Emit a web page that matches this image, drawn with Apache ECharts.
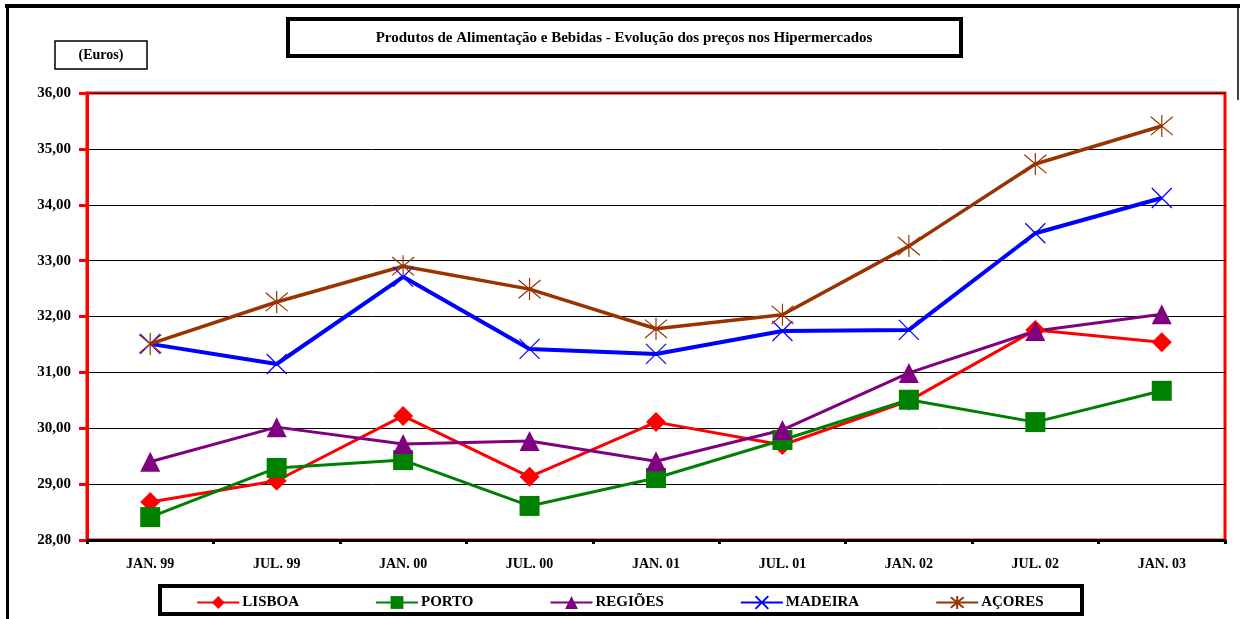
<!DOCTYPE html>
<html>
<head>
<meta charset="utf-8">
<script src="https://cdn.jsdelivr.net/npm/echarts@6/dist/echarts.min.js"></script>
<style>
  html, body { margin: 0; padding: 0; background: #fff; }
  #chart { width: 1240px; height: 619px; }
</style>
</head>
<body>
<div id="chart"></div>
<script>
const periods = ["JAN. 99", "JUL. 99", "JAN. 00", "JUL. 00", "JAN. 01", "JUL. 01", "JAN. 02", "JUL. 02", "JAN. 03"];
const lisboa = [28.68, 29.06, 30.22, 29.13, 30.11, 29.70, 30.49, 31.76, 31.54];
const porto = [28.41, 29.29, 29.43, 28.61, 29.11, 29.79, 30.51, 30.11, 30.67];
const regioes = [29.40, 30.02, 29.72, 29.77, 29.41, 29.97, 30.99, 31.74, 32.04];
const madeira = [31.51, 31.15, 32.71, 31.42, 31.33, 31.74, 31.76, 33.49, 34.12];
const acores = [31.51, 32.26, 32.90, 32.49, 31.78, 32.03, 33.26, 34.73, 35.41];

const serif = "'Liberation Serif', 'DejaVu Serif', serif";

const chart = echarts.init(document.getElementById("chart"));

function lineSeries(name, data, color, width, symbol, size, hollow) {
  return {
    name: name,
    type: "line",
    data: data,
    symbol: symbol,
    symbolSize: size,
    lineStyle: { color: color, width: width },
    itemStyle: hollow
      ? { color: "rgba(0,0,0,0)", borderColor: color, borderWidth: 1.2 }
      : { color: color, borderWidth: 0 },
    emphasis: { disabled: true },
    z: 3
  };
}

const crossPath = "path://M0,0L10,10M10,0L0,10";
const starPath = "path://M0,0L10,10M10,0L0,10M5,-1L5,11";

const option = {
  animation: false,
  backgroundColor: "#fff",
  grid: {
    left: 87,
    right: 15,
    top: 93,
    bottom: 79,
    show: true,
    borderColor: "#ff0000",
    borderWidth: 3,
    backgroundColor: "#fff"
  },
  legend: {
    left: "center",
    top: 590,
    itemWidth: 42,
    itemHeight: 16,
    itemGap: 76,
    textStyle: { fontFamily: serif, fontWeight: "bold", fontSize: 15, color: "#000", padding: [0, 0, 0, -2] },
    data: ["LISBOA", "PORTO", "REGIÕES", "MADEIRA", "AÇORES"]
  },
  xAxis: {
    type: "category",
    data: periods,
    boundaryGap: true,
    axisLine: { show: true, lineStyle: { color: "#000", width: 3 } },
    axisTick: { show: true, length: 4, lineStyle: { color: "#000", width: 3 } },
    axisLabel: { margin: 17, fontFamily: serif, fontWeight: "bold", fontSize: 14, color: "#000" },
    splitLine: { show: false }
  },
  yAxis: {
    type: "value",
    min: 28,
    max: 36,
    interval: 1,
    axisLine: { show: true, lineStyle: { color: "#ff0000", width: 3 } },
    axisTick: { show: true, length: 8, lineStyle: { color: "#ff0000", width: 3 } },
    axisLabel: {
      margin: 16,
      fontFamily: serif,
      fontWeight: "bold",
      fontSize: 15,
      color: "#000",
      formatter: function (v) { return v.toFixed(2).replace(".", ","); }
    },
    splitLine: { show: true, lineStyle: { color: "#000", width: 1 } }
  },
  series: [
    lineSeries("LISBOA", lisboa, "#ff0000", 3, "diamond", 20, false),
    lineSeries("PORTO", porto, "#008000", 3, "rect", 20, false),
    lineSeries("REGIÕES", regioes, "#800080", 3, "triangle", 20, false),
    lineSeries("MADEIRA", madeira, "#0000ff", 4, crossPath, 20, true),
    lineSeries("AÇORES", acores, "#993300", 3.5, starPath, 22, true)
  ],
  graphic: [
    { type: "line", shape: { x1: 5, y1: 6, x2: 1240, y2: 6 }, style: { stroke: "#000", lineWidth: 4 } },
    { type: "line", shape: { x1: 7.5, y1: 4, x2: 7.5, y2: 619 }, style: { stroke: "#000", lineWidth: 3 } },
    { type: "line", shape: { x1: 1238, y1: 4, x2: 1238, y2: 100 }, style: { stroke: "#000", lineWidth: 1.5 } },
    {
      type: "rect",
      shape: { x: 288, y: 19, width: 673, height: 37 },
      style: { fill: "#fff", stroke: "#000", lineWidth: 4 }
    },
    {
      type: "text",
      x: 624,
      y: 38,
      style: {
        text: "Produtos de Alimentação e Bebidas - Evolução dos preços nos Hipermercados",
        font: "bold 15px " + serif,
        fill: "#000",
        align: "center",
        verticalAlign: "middle"
      }
    },
    {
      type: "rect",
      shape: { x: 55, y: 41, width: 92, height: 28 },
      style: { fill: "#fff", stroke: "#000", lineWidth: 1.5 }
    },
    {
      type: "text",
      x: 101,
      y: 55,
      style: {
        text: "(Euros)",
        font: "bold 14px " + serif,
        fill: "#000",
        align: "center",
        verticalAlign: "middle"
      }
    },
    {
      type: "rect",
      shape: { x: 160, y: 586, width: 922, height: 28 },
      style: { fill: "#fff", stroke: "#000", lineWidth: 4 },
      z: -1
    }
  ]
};

chart.setOption(option);
</script>
</body>
</html>
